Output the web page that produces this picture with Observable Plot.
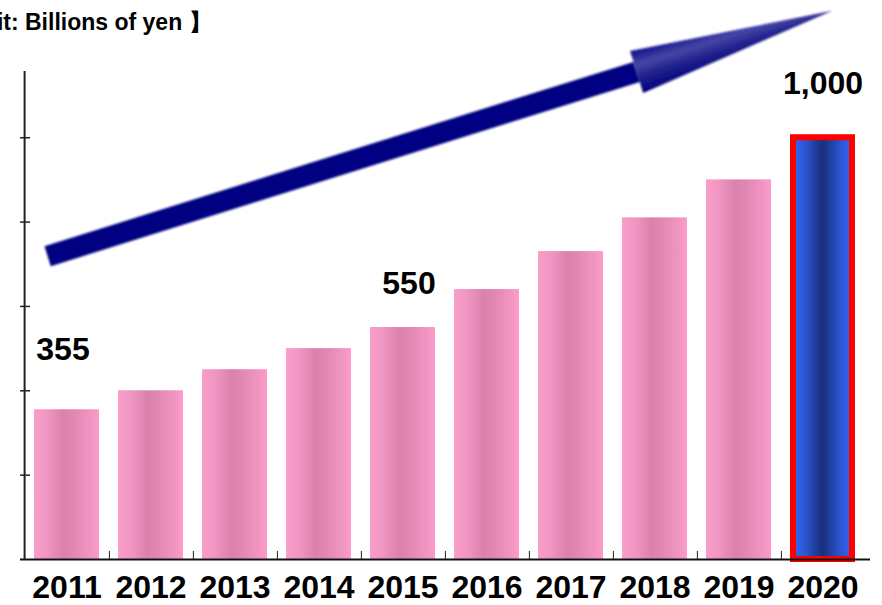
<!DOCTYPE html>
<html><head><meta charset="utf-8">
<script src="https://cdn.jsdelivr.net/npm/d3@7"></script>
<script src="https://cdn.jsdelivr.net/npm/@observablehq/plot@0.6"></script>
<style>
html,body{margin:0;padding:0;background:#fff;}
#chart{position:relative;width:882px;height:605px;overflow:hidden;}
</style></head><body><div id="chart"></div>
<script>
// ---- data ----
const years = ["2011","2012","2013","2014","2015","2016","2017","2018","2019","2020"];
const sales = [355, 400, 450, 500, 550, 640, 730, 810, 900, 1000];
const labelledYears = ["2011", "2015", "2020"];
const yTicks = [200, 400, 600, 800, 1000];
const highlightYear = "2020";
const unitLead = "【Unit: ";
const unitRest = "Billions of yen 】";
const arrowFrom = {year: "2011", offset: 0.21, value: 718};
const arrowTo = {year: "2020", offset: 0.65, value: 1300};

// ---- layout ----
const W = 882, H = 605, mL = 20, mR = 12, mT = 71, mB = 46;
const yMax = 1157;
const xRange = [20, 868];
const step = (xRange[1] - xRange[0]) / years.length;
const pxPerUnit = (H - mT - mB) / yMax;
const data = years.map((year, i) => ({year, value: sales[i]}));
const fmt = d3.format(",");
const font = "'Liberation Sans', Arial, Helvetica, sans-serif";

function valueLabel(year, dx, dy) {
  return Plot.text(data.filter(d => d.year === year), {
    x: "year", y: "value", text: d => fmt(d.value), dx, dy,
    lineAnchor: "bottom", textAnchor: "middle", fontSize: 32, fontWeight: "bold", fill: "#000"
  });
}

const chart = Plot.plot({
  width: W, height: H, marginLeft: mL, marginRight: mR, marginTop: mT, marginBottom: mB,
  style: {fontFamily: font, fontWeight: "bold", background: "#fff", color: "#000", overflow: "visible"},
  x: {domain: years, range: xRange, paddingInner: 0.23, paddingOuter: 0.115, label: null},
  y: {domain: [0, yMax], axis: null, label: null},
  marks: [
    Plot.barY(data.filter(d => d.year !== highlightYear), {x: "year", y: "value", fill: "url(#pinkGrad)"}),
    Plot.barY(data.filter(d => d.year === highlightYear), {
      x: "year", y: "value", fill: "url(#blueGrad)", stroke: "#ff0000", strokeWidth: 6,
      insetLeft: 3, insetRight: 3
    }),
    Plot.ruleY([0], {stroke: "#111", strokeWidth: 2}),
    Plot.ruleX([years[0]], {x: d => d, y1: 0, y2: yMax, dx: -step / 2, stroke: "#222", strokeWidth: 2}),
    Plot.ruleY(yTicks, {y: d => d, insetRight: (W - mL - mR) - 10, stroke: "#222", strokeWidth: 1.5}),
    Plot.ruleX(years.slice(0, -1), {x: d => d, y1: 0, y2: 8 / pxPerUnit, dx: step / 2, stroke: "#222", strokeWidth: 1}),
    Plot.axisX({tickSize: 0, tickPadding: 16, fontSize: 32, fontWeight: "bold", fill: "#000"}),
    valueLabel(labelledYears[0], -4, -50),
    valueLabel(labelledYears[1], 6, -34),
    valueLabel(labelledYears[2], 0, -44)
  ]
});

document.getElementById("chart").appendChild(chart);

const svg = d3.select(chart);
svg.selectAll('g[aria-label="x-axis tick label"]').attr("font-size", 32).attr("font-weight", "bold");

// gradients and filter
const defs = svg.insert("defs", ":first-child");
const pink = defs.append("linearGradient").attr("id", "pinkGrad").attr("x1", 0).attr("x2", 1).attr("y1", 0).attr("y2", 0);
[[0, "#fb9dcc"], [0.2, "#f096c3"], [0.45, "#da81ac"], [0.62, "#e088b3"], [1, "#fc9bcb"]]
  .forEach(([o, c]) => pink.append("stop").attr("offset", o).attr("stop-color", c));
const blue = defs.append("linearGradient").attr("id", "blueGrad").attr("x1", 0).attr("x2", 1).attr("y1", 0).attr("y2", 0);
[[0, "#3469f6"], [0.2, "#2d56d2"], [0.5, "#192e7a"], [0.8, "#2b54d0"], [1, "#3366f5"]]
  .forEach(([o, c]) => blue.append("stop").attr("offset", o).attr("stop-color", c));
defs.append("filter").attr("id", "soft").attr("x", "-5%").attr("y", "-20%").attr("width", "110%").attr("height", "140%")
  .append("feGaussianBlur").attr("stdDeviation", 0.8);

// arrow annotation, positioned through the chart's scales
const xs = chart.scale("x"), ys = chart.scale("y");
const bw = xs.bandwidth;
const p0 = [xs.apply(arrowFrom.year) + bw * arrowFrom.offset, ys.apply(arrowFrom.value)];
const p1 = [xs.apply(arrowTo.year) + bw * arrowTo.offset, ys.apply(arrowTo.value)];
const len = Math.hypot(p1[0] - p0[0], p1[1] - p0[1]);
const u = [(p1[0] - p0[0]) / len, (p1[1] - p0[1]) / len];
const n = [-u[1], u[0]];
const shaftHalf = 10.5, headLen = 205, headHalf = 22;
const hb = [p1[0] - u[0] * headLen, p1[1] - u[1] * headLen];
const pt = (b, k) => [b[0] + n[0] * k, b[1] + n[1] * k];
const arrowG = svg.append("g").attr("filter", "url(#soft)");
arrowG.append("path")
  .attr("d", d3.line()([pt(p0, -shaftHalf), pt(hb, -shaftHalf), pt(hb, shaftHalf), pt(p0, shaftHalf)]) + "Z")
  .attr("fill", "#020282");
const hg = defs.append("linearGradient").attr("id", "headGrad").attr("gradientUnits", "userSpaceOnUse")
  .attr("x1", pt(hb, -headHalf)[0]).attr("y1", pt(hb, -headHalf)[1])
  .attr("x2", pt(hb, headHalf)[0]).attr("y2", pt(hb, headHalf)[1]);
[[0, "#10108a"], [0.35, "#4646a6"], [0.6, "#24248f"], [1, "#00007a"]]
  .forEach(([o, c]) => hg.append("stop").attr("offset", o).attr("stop-color", c));
arrowG.append("path")
  .attr("d", d3.line()([pt(hb, -headHalf), p1, pt(hb, headHalf), pt(hb, shaftHalf - 0.5), pt(hb, -shaftHalf + 0.5)]) + "Z")
  .attr("fill", "url(#headGrad)");

// unit title (its lead runs off the left edge like the reference)
const titleG = svg.append("g").attr("font-size", 23).attr("font-weight", "bold")
  .attr("font-family", font).attr("fill", "#000");
titleG.append("text").attr("x", 25).attr("y", 30).attr("text-anchor", "end").text(unitLead);
titleG.append("text").attr("x", 25).attr("y", 30).attr("text-anchor", "start").text(unitRest);
</script></body></html>
